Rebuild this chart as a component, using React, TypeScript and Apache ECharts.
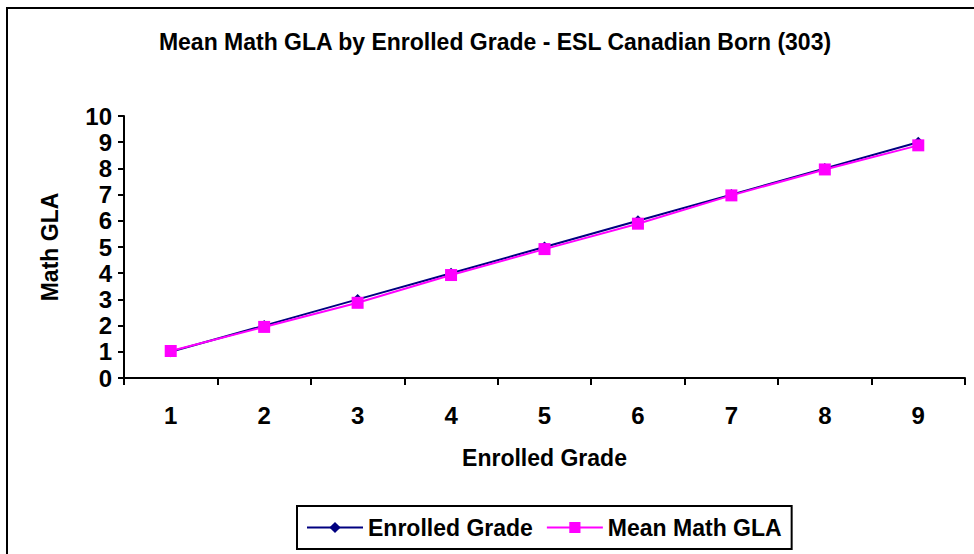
import React, { useEffect, useRef } from "react";
import * as echarts from "echarts";

const grades = ["1", "2", "3", "4", "5", "6", "7", "8", "9"];
const enrolledGrade = [1, 2, 3, 4, 5, 6, 7, 8, 9];
const meanMathGLA = [1.03, 1.95, 2.87, 3.93, 4.92, 5.89, 6.97, 7.96, 8.88];
const yTicks = { min: 0, max: 10, interval: 1 };
const titleText = "Mean Math GLA by Enrolled Grade - ESL Canadian Born (303)";

const FONT = "'Liberation Sans', Arial, sans-serif";

export default function App() {
  const ref = useRef<HTMLDivElement>(null);
  useEffect(() => {
    document.body.style.margin = "0";
    const chart = echarts.init(ref.current!, null, { renderer: "svg" });
    chart.setOption({
      animation: false,
      backgroundColor: "#ffffff",
      graphic: [
        {
          type: "rect",
          shape: { x: 7, y: 8, width: 1000, height: 600 },
          style: { fill: "none", stroke: "#000", lineWidth: 2 },
          silent: true,
        },
        {
          type: "text",
          x: 495,
          y: 42,
          style: {
            text: titleText,
            fontFamily: FONT,
            fontWeight: "bold",
            fontSize: 23,
            fill: "#000",
            align: "center",
            verticalAlign: "middle",
          },
          silent: true,
        },
      ],
      legend: {
        left: 297,
        top: 506,
        orient: "horizontal",
        borderColor: "#000",
        borderWidth: 2,
        padding: [10, 10, 10, 9],
        itemWidth: 56,
        itemHeight: 14,
        itemGap: 13,
        textStyle: { fontFamily: FONT, fontWeight: "bold", fontSize: 23, color: "#000" },
        data: ["Enrolled Grade", "Mean Math GLA"],
      },
      grid: { left: 124, top: 116, right: 9, bottom: 176, containLabel: false },
      xAxis: {
        type: "category",
        data: grades,
        boundaryGap: true,
        name: "Enrolled Grade",
        nameLocation: "middle",
        nameGap: 68,
        nameTextStyle: { fontFamily: FONT, fontWeight: "bold", fontSize: 23, color: "#000" },
        axisLine: { lineStyle: { color: "#000", width: 2 } },
        axisTick: { show: true, length: 7, alignWithLabel: false, lineStyle: { color: "#000", width: 2 } },
        axisLabel: { margin: 25, fontFamily: FONT, fontWeight: "bold", fontSize: 24, color: "#000" },
        splitLine: { show: false },
      },
      yAxis: {
        type: "value",
        min: yTicks.min,
        max: yTicks.max,
        interval: yTicks.interval,
        name: "Math GLA",
        nameLocation: "middle",
        nameRotate: 90,
        nameGap: 63,
        nameTextStyle: { fontFamily: FONT, fontWeight: "bold", fontSize: 23, color: "#000" },
        axisLine: { show: true, lineStyle: { color: "#000", width: 2 } },
        axisTick: { show: true, length: 6, lineStyle: { color: "#000", width: 2 } },
        axisLabel: { margin: 12, fontFamily: FONT, fontWeight: "bold", fontSize: 24, color: "#000" },
        splitLine: { show: false },
      },
      series: [
        {
          name: "Enrolled Grade",
          type: "line",
          data: enrolledGrade,
          symbol: "diamond",
          symbolSize: 11,
          lineStyle: { color: "#000080", width: 2 },
          itemStyle: { color: "#000080" },
        },
        {
          name: "Mean Math GLA",
          type: "line",
          data: meanMathGLA,
          symbol: "rect",
          symbolSize: 12,
          lineStyle: { color: "#ff00ff", width: 2 },
          itemStyle: { color: "#ff00ff" },
        },
      ],
    });
    return () => chart.dispose();
  }, []);
  return <div ref={ref} style={{ width: 974, height: 554 }} />;
}
